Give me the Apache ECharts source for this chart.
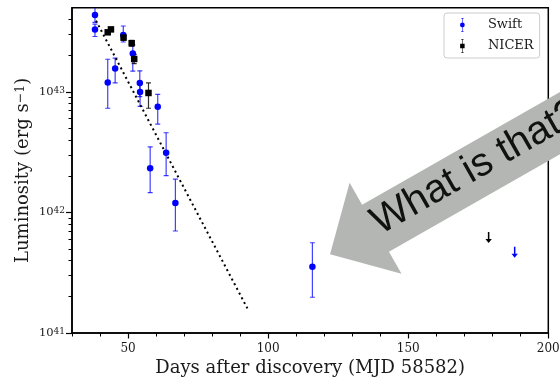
<!DOCTYPE html>
<html>
<head>
<meta charset="utf-8">
<script src="https://cdn.jsdelivr.net/npm/echarts@6/dist/echarts.min.js"></script>
<style>
  html, body { margin: 0; padding: 0; background: #ffffff; }
  #chart { width: 560px; height: 378px; }
</style>
</head>
<body>
<div id="chart"></div>
<script>
// Swift XRT: days after discovery, luminosity and 1-sigma range (erg s^-1)
const swiftDays = [38.2, 38.2, 42.75, 45.4, 48.3, 51.7, 54.2, 54.3, 57.9, 60.6, 63.6, 66.9, 115.8];
const swiftLum  = [4.36e43, 3.30e43, 1.20e43, 1.57e43, 2.97e43, 2.09e43, 1.19e43, 1.00e43, 2.33e42, 7.55e42, 3.13e42, 1.20e42, 3.55e41];
const swiftLow  = [3.78e43, 2.89e43, 7.33e42, 1.19e43, 2.60e43, 1.49e43, 9.14e42, 7.60e42, 1.46e42, 5.42e42, 2.02e42, 7.02e41, 1.98e41];
const swiftHigh = [5.60e43, 3.66e43, 1.87e43, 1.91e43, 3.53e43, 2.46e43, 1.50e43, 1.20e43, 3.50e42, 9.57e42, 4.59e42, 1.89e42, 5.61e41];

// NICER
const nicerDays = [42.75, 43.9, 48.4, 51.3, 52.2, 57.3];
const nicerLum  = [3.13e43, 3.31e43, 2.83e43, 2.54e43, 1.88e43, 9.82e42];
const nicerLow  = [3.03e43, 3.21e43, 2.70e43, 2.40e43, 1.72e43, 7.33e42];
const nicerHigh = [3.23e43, 3.41e43, 2.97e43, 2.68e43, 2.05e43, 1.19e43];

// Upper limits (late epochs)
const swiftLimitDays = [188.0];
const swiftLimitLum  = [5.2e41];
const nicerLimitDays = [178.7];
const nicerLimitLum  = [6.9e41];

// Exponential decay fit, drawn between its two end points
const fitDays = [38.57, 92.6];
const fitLum  = [3.91e43, 1.60e41];

// Axis ticks
const xMajorTicks = [50, 100, 150, 200];
const xMinorTicks = [30, 40, 50, 60, 70, 80, 90, 100, 110, 120, 130, 140, 150, 160, 170, 180, 190, 200];
const yMajorTicks = [1e41, 1e42, 1e43];
const yMinorTicks = [2e41, 3e41, 4e41, 5e41, 6e41, 7e41, 8e41, 9e41,
                     2e42, 3e42, 4e42, 5e42, 6e42, 7e42, 8e42, 9e42,
                     2e43, 3e43, 4e43];

// Callout pointing at the late Swift detection
const calloutText = 'What is that?';
const calloutTip  = [122.1, 4.5e41];

const lg = Math.log10;
const SERIF = 'DejaVu Serif';
const BLUE = '#0000ff';
const BLACK = '#000000';
const TEXT = '#1a1a1a';
const yMin = 41, yMax = lg(5e43);

function errorBars(name, days, low, high, color, opacity) {
  return {
    type: 'custom',
    name: name,
    xAxisIndex: 0, yAxisIndex: 0,
    clip: true, silent: true, z: 2,
    data: days.map((d, i) => [d, lg(low[i]), lg(high[i])]),
    renderItem(params, api) {
      const top = api.coord([api.value(0), api.value(2)]);
      const bot = api.coord([api.value(0), api.value(1)]);
      const cap = 2.5;
      const style = { stroke: color, lineWidth: 1.2, opacity: opacity };
      return {
        type: 'group',
        children: [
          { type: 'line', shape: { x1: top[0], y1: top[1], x2: bot[0], y2: bot[1] }, style },
          { type: 'line', shape: { x1: top[0] - cap, y1: top[1], x2: top[0] + cap, y2: top[1] }, style },
          { type: 'line', shape: { x1: bot[0] - cap, y1: bot[1], x2: bot[0] + cap, y2: bot[1] }, style }
        ]
      };
    }
  };
}

function upperLimits(name, days, lum, color) {
  return {
    type: 'custom',
    name: name,
    xAxisIndex: 0, yAxisIndex: 0,
    clip: true, silent: true, z: 3,
    data: days.map((d, i) => [d, lg(lum[i])]),
    renderItem(params, api) {
      const p = api.coord([api.value(0), api.value(1)]);
      const len = 11, head = 3.2;
      return {
        type: 'group',
        children: [
          { type: 'line', shape: { x1: p[0], y1: p[1], x2: p[0], y2: p[1] + len - 2 },
            style: { stroke: color, lineWidth: 1.5 } },
          { type: 'polygon', shape: { points: [[p[0] - head, p[1] + len - 4], [p[0] + head, p[1] + len - 4], [p[0], p[1] + len]] },
            style: { fill: color } }
        ]
      };
    }
  };
}

// Legend glyphs: error bar with caps plus the marker
const swiftIcon = 'path://M3 0H7V0.8H5.4V19.2H7V20H3V19.2H4.6V0.8H3Z M5 6.6A3.4 3.4 0 1 1 4.99 6.6Z';
const nicerIcon = 'path://M3 0H7V0.8H5.4V19.2H7V20H3V19.2H4.6V0.8H3Z M1.8 6.8H8.2V13.2H1.8Z';

const chart = echarts.init(document.getElementById('chart'), null, { renderer: 'canvas', width: 560, height: 378 });

const option = {
  animation: false,
  backgroundColor: '#ffffff',
  grid: {
    left: 72, right: 11.7, top: 7.8, bottom: 45,
    containLabel: false, outerBoundsMode: 'none',
    show: true, borderColor: BLACK, borderWidth: 1.5, backgroundColor: '#ffffff'
  },
  legend: {
    orient: 'vertical',
    left: 444, top: 13,
    padding: [5, 6, 5, 16],
    itemWidth: 7, itemHeight: 14, itemGap: 7,
    backgroundColor: '#ffffff', borderColor: '#cccccc', borderWidth: 1, borderRadius: 3,
    textStyle: { fontFamily: SERIF, fontSize: 13, color: TEXT, padding: [0, 0, 0, 17] },
    data: [{ name: 'Swift', icon: swiftIcon }, { name: 'NICER', icon: nicerIcon }]
  },
  xAxis: [
    {
      type: 'value', min: 30, max: 200, position: 'bottom',
      name: 'Days after discovery (MJD 58582)', nameLocation: 'middle', nameGap: 26,
      nameMoveOverlap: false,
      nameTextStyle: { fontFamily: SERIF, fontSize: 18, color: TEXT },
      axisLine: { show: true, lineStyle: { color: BLACK, width: 1.5 } },
      axisTick: { show: true, length: 3.5, customValues: xMinorTicks, lineStyle: { color: BLACK, width: 1 } },
      axisLabel: { customValues: xMajorTicks, margin: 10, fontFamily: SERIF, fontSize: 12, color: TEXT },
      splitLine: { show: false }
    },
    {
      type: 'value', min: 30, max: 200, position: 'bottom',
      axisLine: { show: false },
      axisTick: { show: true, length: 5.5, customValues: xMajorTicks, lineStyle: { color: BLACK, width: 1.2 } },
      axisLabel: { show: false },
      splitLine: { show: false }
    }
  ],
  yAxis: [
    {
      type: 'value', min: yMin, max: yMax, position: 'left',
      name: '{m|Luminosity (erg s}{sup|−1}{m|)}', nameLocation: 'middle', nameGap: 40,
      nameMoveOverlap: false,
      nameTextStyle: {
        fontFamily: SERIF, fontSize: 18, color: TEXT,
        rich: {
          m: { fontFamily: SERIF, fontSize: 18, lineHeight: 18, color: TEXT, verticalAlign: 'bottom' },
          sup: { fontFamily: SERIF, fontSize: 12.5, lineHeight: 12.5, color: TEXT, verticalAlign: 'top', padding: [0, 0, 8, 0] }
        }
      },
      axisLine: { show: true, lineStyle: { color: BLACK, width: 1.5 } },
      axisTick: { show: true, length: 6, customValues: yMajorTicks.map(lg), lineStyle: { color: BLACK, width: 1.2 } },
      axisLabel: {
        customValues: yMajorTicks.map(lg), margin: 7,
        fontFamily: SERIF, fontSize: 11.5, color: TEXT,
        formatter: v => '{b|10}{s|' + Math.round(v) + '}',
        rich: {
          b: { fontFamily: SERIF, fontSize: 11.5, lineHeight: 12, color: TEXT, verticalAlign: 'bottom' },
          s: { fontFamily: SERIF, fontSize: 9, lineHeight: 9, color: TEXT, verticalAlign: 'top', padding: [0, 0, 5, 0] }
        }
      },
      splitLine: { show: false }
    },
    {
      type: 'value', min: yMin, max: yMax, position: 'left',
      axisLine: { show: false },
      axisTick: { show: true, length: 3.5, customValues: yMinorTicks.map(lg), lineStyle: { color: BLACK, width: 1 } },
      axisLabel: { show: false },
      splitLine: { show: false }
    }
  ],
  series: [
    errorBars('Swift error', swiftDays, swiftLow, swiftHigh, BLUE, 0.75),
    errorBars('NICER error', nicerDays, nicerLow, nicerHigh, BLACK, 0.8),
    {
      type: 'line', name: 'fit', xAxisIndex: 0, yAxisIndex: 0,
      data: fitDays.map((d, i) => [d, lg(fitLum[i])]),
      showSymbol: false, symbol: 'none', silent: true, z: 3,
      lineStyle: { color: BLACK, width: 2, type: [2, 3.3], cap: 'butt' }
    },
    {
      type: 'scatter', name: 'Swift', xAxisIndex: 0, yAxisIndex: 0,
      data: swiftDays.map((d, i) => [d, lg(swiftLum[i])]),
      symbol: 'circle', symbolSize: 6.5, z: 4,
      itemStyle: { color: BLUE, opacity: 1 }
    },
    {
      type: 'scatter', name: 'NICER', xAxisIndex: 0, yAxisIndex: 0,
      data: nicerDays.map((d, i) => [d, lg(nicerLum[i])]),
      symbol: 'rect', symbolSize: 6.5, z: 5,
      itemStyle: { color: BLACK, opacity: 1 }
    },
    upperLimits('NICER limit', nicerLimitDays, nicerLimitLum, BLACK),
    upperLimits('Swift limit', swiftLimitDays, swiftLimitLum, BLUE)
  ]
};

chart.setOption(option);

// Big grey callout arrow, anchored at a data position and pointing down-left
const tip = chart.convertToPixel({ seriesIndex: 3 }, [calloutTip[0], lg(calloutTip[1])]);
const angle = 29.7 * Math.PI / 180;
const headLen = 52.4, headHalf = 52.4, shaftHalf = 27.1, bodyLen = 420;
chart.setOption({
  graphic: [{
    type: 'group',
    x: tip[0], y: tip[1],
    rotation: angle,
    z: 100,
    silent: true,
    children: [
      {
        type: 'polygon',
        shape: {
          points: [[0, 0], [headLen, -headHalf], [headLen, -shaftHalf], [bodyLen, -shaftHalf],
                   [bodyLen, shaftHalf], [headLen, shaftHalf], [headLen, headHalf]]
        },
        style: { fill: '#b4b6b4' }
      },
      {
        type: 'text',
        x: 53, y: -3,
        style: {
          text: calloutText,
          font: '40px "Liberation Sans", Arial, sans-serif',
          fill: '#111111',
          align: 'left', verticalAlign: 'middle'
        }
      }
    ]
  }]
});
</script>
</body>
</html>
